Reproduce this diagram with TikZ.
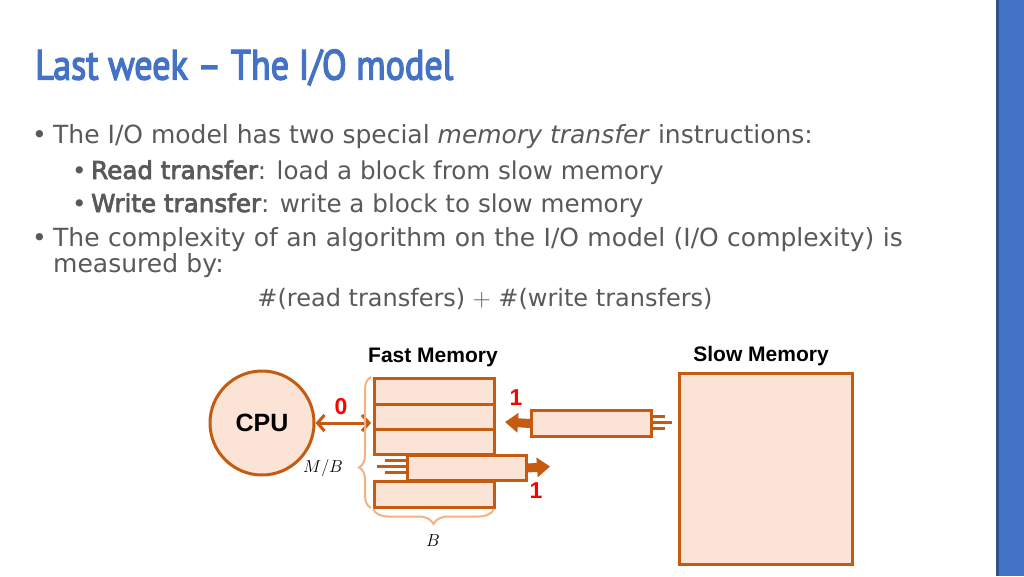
\documentclass[tikz,border=0pt]{standalone}
\usepackage{fontspec}
\setmainfont{DejaVu Sans}
\newfontfamily\sembf[FakeBold=3]{DejaVu Sans}
\newfontfamily\titlefont[FakeBold=3.5]{PT Sans}
\newfontfamily\arialfont{Liberation Sans}
\usetikzlibrary{arrows.meta,decorations.pathreplacing}
\definecolor{brn}{HTML}{C55A11}
\definecolor{pch}{HTML}{FBE3D6}
\definecolor{brc}{HTML}{F4B183}
\definecolor{ttl}{HTML}{4472C4}
\definecolor{txt}{HTML}{595959}
\definecolor{barA}{HTML}{4472C4}
\definecolor{barB}{HTML}{2F528F}
\begin{document}
\begin{tikzpicture}[x=1pt,y=-1pt,
  blk/.style={draw=brn, fill=pch, line width=3pt, inner sep=0pt, anchor=north west},
  body/.style={anchor=base west, inner sep=0pt, text=txt, font=\fontsize{25}{26.5}\selectfont},
  sub/.style={anchor=base west, inner sep=0pt, text=txt, font=\fontsize{24.6}{28}\selectfont},
  lbl/.style={text=red, font=\arialfont\bfseries\fontsize{23}{26}\selectfont, inner sep=0pt},
  hdr/.style={font=\arialfont\bfseries\fontsize{21}{24}\selectfont, inner sep=0pt},
  fat/.style={draw=brn, line width=9pt, -{Triangle[length=13pt,width=19pt]}},
  speed/.style={draw=brn, line width=3pt},
  brc/.style={draw=brc, line width=2pt, decorate},
]
\useasboundingbox (0,0) rectangle (1024,576);
\fill[white] (0,0) rectangle (1024,576);
% side bar
\fill[barA] (996,0) rectangle (1024,576);
\fill[barB] (996,0) rectangle (999,576);
% title
\node[anchor=base west, inner sep=0pt, text=ttl] (title) at (35,79.5)
  {\resizebox{418pt}{30pt}{\titlefont Last week – The I/O model}};
% bullets
\node[body] (b1d) at (32,143) {•};
\node[body] (b1) at (53,143) {The I/O model has two special \textit{memory transfer} instructions:};
\node[sub] (b2d) at (72,179) {•};
\node[sub] (b2) at (91,179) {{\sembf Read transfer}: load a block from slow memory};
\node[sub] (b3d) at (72,212) {•};
\node[sub] (b3) at (91,212) {{\sembf Write transfer}: write a block to slow memory};
\node[body] (b4d) at (32,246) {•};
\node[body, text width=880pt, align=left] (b4) at (53,246) {The complexity of an algorithm on the I/O model (I/O complexity) is\\measured by:};
\node[body, anchor=base, font=\fontsize{24}{28}\selectfont] (form) at (485,306) {\#(read transfers) $+$ \#(write transfers)};
% headers
\node[hdr] (fmh) at (433,357) {Fast Memory};
\node[hdr] (smh) at (761,356) {Slow Memory};
% CPU
\node[circle, draw=brn, fill=pch, line width=3pt, minimum size=104pt, inner sep=0pt,
  font=\arialfont\bfseries\fontsize{25}{28}\selectfont] (cpu) at (262,423) {CPU};
% fast memory blocks
\node[blk, minimum width=120pt, minimum height=26pt] (f1) at (373,377) {};
\node[blk, minimum width=120pt, minimum height=25pt] (f2) at (373,403) {};
\node[blk, minimum width=120pt, minimum height=25pt] (f3) at (373,428) {};
\node[blk, minimum width=120pt, minimum height=26pt] (f5) at (373,480) {};
\node[blk, minimum width=119pt, minimum height=25pt] (mv) at (406,454) {};
% read block
\node[blk, minimum width=120pt, minimum height=26pt] (rd) at (530,409) {};
% slow memory
\node[blk, minimum width=173pt, minimum height=191pt] (slow) at (678,372) {};
% speed lines
\coordinate (s1) at (385,460.7);
\coordinate (s2) at (377,466.7);
\coordinate (s3) at (385,472.7);
\draw[speed] (s1) -- (s1 -| mv.west);
\draw[speed] (s2) -- (s2 -| mv.west);
\draw[speed] (s3) -- (s3 -| mv.west);
\coordinate (t1) at (665,416);
\coordinate (t2) at (672,422);
\coordinate (t3) at (665,428);
\draw[speed] (t1 -| rd.east) -- (t1);
\draw[speed] (t2 -| rd.east) -- (t2);
\draw[speed] (t3 -| rd.east) -- (t3);
% transfer arrows
\coordinate (rdto) at (505,422);
\draw[fat] (rd.west) -- (rdto);
\coordinate (mvto) at (550,466.5);
\draw[fat] (mv.east) -- (mvto);
\node[lbl] (l1) at (516,398) {1};
\node[lbl] (l2) at (536,491) {1};
% CPU <-> fast memory
\coordinate (fmin) at (371,423);
\draw[brn, line width=3pt, {Straight Barb[length=7pt,width=16pt]}-{Straight Barb[length=7pt,width=16pt]}] (cpu.east) -- (fmin);
\node[lbl] (l0) at (341,407) {0};
% braces
\coordinate (bl1) at (371,508);
\coordinate (bl2) at (371,377);
\draw[brc, decoration={brace, amplitude=12pt, aspect=0.31}] (bl1) -- (bl2);
\coordinate (bb1) at (494,509);
\coordinate (bb2) at (373,509);
\draw[brc, decoration={brace, amplitude=15pt}] (bb1) -- (bb2);
\node[text=black, inner sep=0pt, font=\fontsize{19}{22}\selectfont] (mb) at (323,468) {$M/B$};
\node[text=black, inner sep=0pt, font=\fontsize{19}{22}\selectfont] (bl) at (433,541) {$B$};
\end{tikzpicture}
\end{document}
